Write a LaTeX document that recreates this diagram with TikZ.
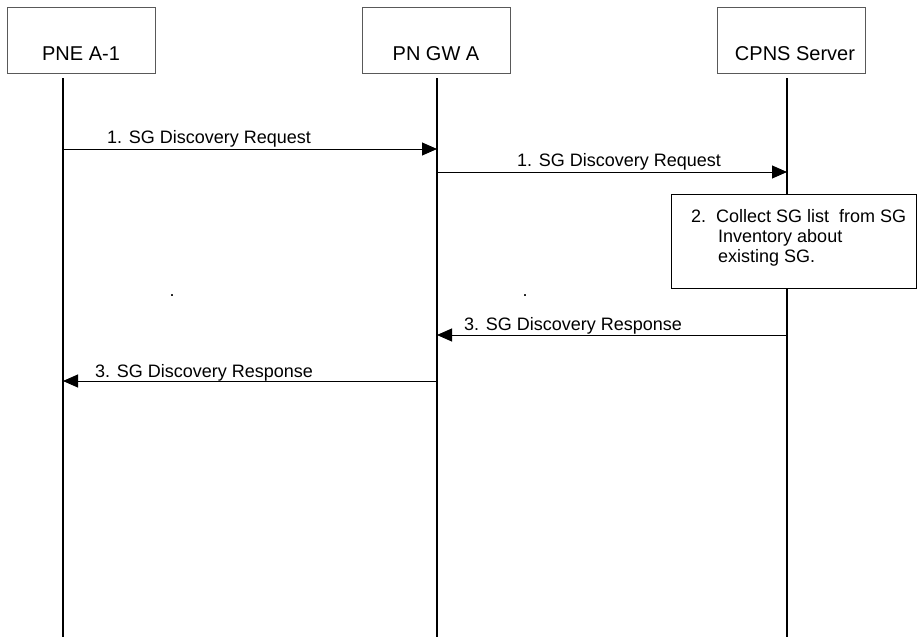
\documentclass[tikz,border=0pt]{standalone}
\usepackage{fontspec}
\setmainfont{Liberation Sans}
\usetikzlibrary{arrows.meta}
\tikzset{
  entity/.style={draw=black!65, line width=0.9pt, minimum width=148pt, minimum height=66pt,
    inner sep=0pt, text height=53pt, text depth=13pt, font=\fontsize{20}{24}\selectfont},
  lifeline/.style={line width=2pt},
  msg/.style={-{Triangle[length=15pt,width=13pt]}, line width=0.9pt},
  msglabel/.style={font=\fontsize{18}{20}\selectfont, inner sep=0pt, anchor=base west}
}
\begin{document}
\begin{tikzpicture}[x=1pt,y=-1pt]
  \useasboundingbox (0,0) rectangle (918,637);
  % entities
  \node[entity] (pne) at (81,40) {PNE A-1};
  \node[entity] (gw) at (436,40) {PN GW A};
  \node[entity] (cpns) at (791,40) {\hspace*{8pt}CPNS Server};
  % lifelines
  \coordinate (pne top) at (63,78);   \coordinate (pne bot) at (63,637);
  \coordinate (gw top) at (437,78);   \coordinate (gw bot) at (437,637);
  \coordinate (cpns top) at (787,78); \coordinate (cpns bot) at (787,637);
  \draw[lifeline] (pne top) -- (pne bot);
  \draw[lifeline] (gw top) -- (gw bot);
  \draw[lifeline] (cpns top) -- (cpns bot);
  % message end points
  \coordinate (m1a) at (63,149);  \coordinate (m1b) at (437,149);
  \coordinate (m2a) at (437,172); \coordinate (m2b) at (787,172);
  \coordinate (m3a) at (787,335); \coordinate (m3b) at (437,335);
  \coordinate (m4a) at (437,381); \coordinate (m4b) at (63,381);
  \draw[msg] (m1a) -- (m1b);
  \draw[msg] (m2a) -- (m2b);
  \draw[msg] (m3a) -- (m3b);
  \draw[msg] (m4a) -- (m4b);
  \node[msglabel] (l1) at (107,143) {1. SG Discovery Request};
  \node[msglabel] (l2) at (517,166) {1. SG Discovery Request};
  \node[msglabel] (l3) at (464,330) {3. SG Discovery Response};
  \node[msglabel] (l4) at (95,377) {3. SG Discovery Response};
  % local action
  \node[draw, line width=1.2pt, fill=white, anchor=north west, minimum width=245pt,
    minimum height=94pt, inner sep=0pt] (collect) at (671,194) {};
  \node[msglabel, align=left] (collect text) at (691,262)
    {2.\ \ Collect SG list\ \ from SG\\
     \hspace*{27pt}Inventory about\\
     \hspace*{27pt}existing SG.};
  \node[msglabel, anchor=base] (dot1) at (172,296) {.};
  \node[msglabel, anchor=base] (dot2) at (525,296) {.};
\end{tikzpicture}
\end{document}
